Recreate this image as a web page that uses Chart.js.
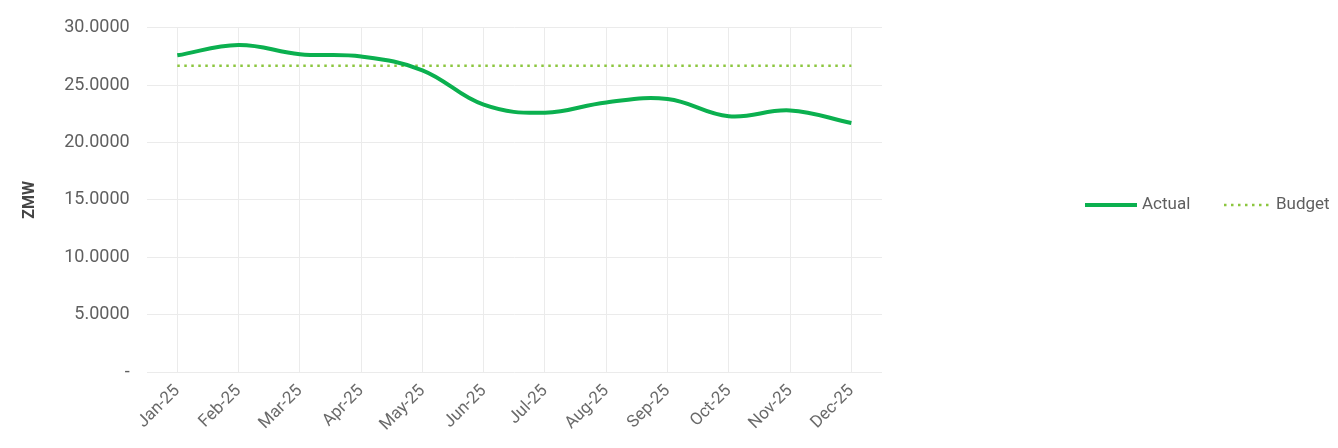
<!DOCTYPE html>
<html>
<head>
<meta charset="utf-8">
<script src="https://cdn.jsdelivr.net/npm/chart.js@4/dist/chart.umd.min.js"></script>
<style>
  html, body { margin: 0; padding: 0; background: #fff; }
  #wrap { width: 1338px; height: 448px; }
</style>
</head>
<body>
<div id="wrap"><canvas id="chart" width="1338" height="448"></canvas></div>
<script>
'use strict';

const months = [
  'Jan-25', 'Feb-25', 'Mar-25', 'Apr-25', 'May-25', 'Jun-25',
  'Jul-25', 'Aug-25', 'Sep-25', 'Oct-25', 'Nov-25', 'Dec-25',
];
const actual = [27.6, 28.5, 27.7, 27.5, 26.3, 23.3, 22.6, 23.5, 23.8, 22.3, 22.8, 21.7];
const budget = [26.7, 26.7, 26.7, 26.7, 26.7, 26.7, 26.7, 26.7, 26.7, 26.7, 26.7, 26.7];
const yTicks = [0, 5, 10, 15, 20, 25, 30];

const textColor = '#5f5f5f';
const gridColor = '#ebebeb';
const fontFamily = 'Roboto, "Liberation Sans", sans-serif';

// Legend sits to the right of the plot, items side by side
const sideLegend = {
  id: 'sideLegend',
  afterDraw(chart) {
    const { ctx } = chart;
    const y = 205;
    const items = [
      { ds: chart.data.datasets[0], x: 1085, w: 52 },
      { ds: chart.data.datasets[1], x: 1224, w: 47 },
    ];
    ctx.save();
    ctx.font = `17px ${fontFamily}`;
    ctx.textBaseline = 'middle';
    items.forEach(item => {
      ctx.beginPath();
      ctx.setLineDash(item.ds.borderDash || []);
      ctx.lineWidth = item.ds.borderWidth;
      ctx.strokeStyle = item.ds.borderColor;
      ctx.moveTo(item.x, y);
      ctx.lineTo(item.x + item.w, y);
      ctx.stroke();
      ctx.setLineDash([]);
      ctx.fillStyle = textColor;
      ctx.fillText(item.ds.label, item.x + item.w + 5, y);
    });
    ctx.restore();
  },
};

const ctx = document.getElementById('chart').getContext('2d');

new Chart(ctx, {
  type: 'line',
  data: {
    labels: months,
    datasets: [
      {
        label: 'Actual',
        data: actual,
        borderColor: '#0bb04f',
        borderWidth: 4,
        tension: 0.4,
        pointRadius: 0,
        fill: false,
      },
      {
        label: 'Budget',
        data: budget,
        borderColor: '#8cc63f',
        borderWidth: 2.5,
        borderDash: [2.5, 4.5],
        tension: 0,
        pointRadius: 0,
        fill: false,
      },
    ],
  },
  options: {
    responsive: false,
    animation: false,
    layout: {
      padding: { left: 16, right: 456, top: 23, bottom: 4 },
    },
    plugins: {
      legend: { display: false },
      tooltip: { enabled: false },
    },
    scales: {
      x: {
        offset: true,
        grid: { color: gridColor, offset: false, drawTicks: false },
        border: { display: false },
        ticks: {
          color: '#6a6a6a',
          font: { family: fontFamily, size: 17 },
          minRotation: 45,
          maxRotation: 45,
          padding: 9,
        },
      },
      y: {
        min: yTicks[0],
        max: yTicks[yTicks.length - 1],
        afterBuildTicks: axis => {
          axis.ticks = yTicks.map(v => ({ value: v }));
        },
        grid: { color: gridColor, drawTicks: false },
        border: { display: false },
        ticks: {
          color: textColor,
          font: { family: fontFamily, size: 18 },
          padding: 17,
          callback: v => (v === 0 ? '-' : v.toFixed(4)),
        },
        title: {
          display: true,
          text: 'ZMW',
          color: '#444',
          font: { family: fontFamily, size: 16, weight: 'bold' },
          padding: { top: 4, bottom: 8 },
        },
      },
    },
  },
  plugins: [sideLegend],
});
</script>
</body>
</html>
